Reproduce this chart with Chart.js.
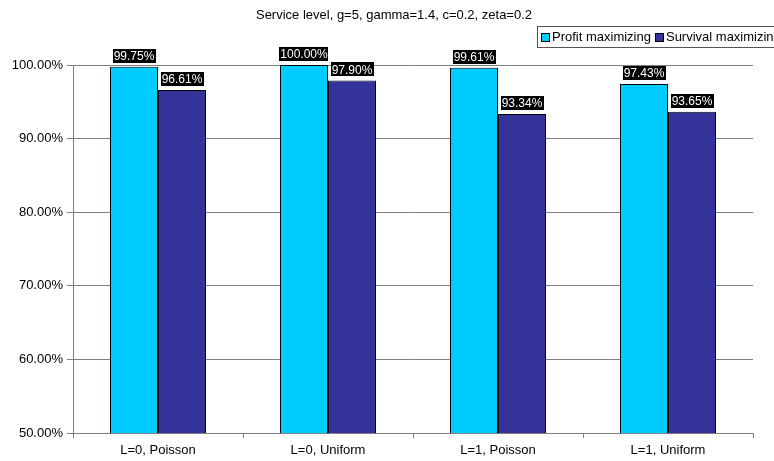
<!DOCTYPE html>
<html>
<head>
<meta charset="utf-8">
<script src="https://cdn.jsdelivr.net/npm/chart.js@4.4.0/dist/chart.umd.min.js"></script>
<style>
  html, body { margin: 0; padding: 0; background: #fff; }
  #wrap { width: 774px; height: 461px; position: relative; }
</style>
</head>
<body>
<div id="wrap"><canvas id="myChart" width="774" height="461"></canvas></div>
<script>
// chart data
let titleText = 'Service level, g=5, gamma=1.4, c=0.2, zeta=0.2';
let categories = ['L=0, Poisson', 'L=0, Uniform', 'L=1, Poisson', 'L=1, Uniform'];
let profitValues = [0.9975, 1.0000, 0.9961, 0.9743];
let survivalValues = [0.9661, 0.9790, 0.9334, 0.9365];
let seriesNames = ['Profit maximizing', 'Survival maximizing'];
let seriesColors = ['#00CCFF', '#333399'];

const FONT = 'Liberation Sans, Arial, sans-serif';

// value labels: white text on black box above each bar
const valueLabels = {
    id: 'valueLabels',
    afterDatasetsDraw(chart) {
        let ctx = chart.ctx;
        ctx.save();
        ctx.font = '12px ' + FONT;
        ctx.textBaseline = 'middle';
        ctx.textAlign = 'center';
        chart.data.datasets.forEach((ds, i) => {
            chart.getDatasetMeta(i).data.forEach((bar, j) => {
                let txt = (ds.data[j] * 100).toFixed(2) + '%';
                let w = ctx.measureText(txt).width + 2;
                let h = 14;
                let bottom = bar.y - 4;
                ctx.fillStyle = '#000';
                ctx.fillRect(Math.round(bar.x - w / 2), Math.round(bottom - h), Math.round(w), h);
                ctx.fillStyle = '#fff';
                ctx.fillText(txt, bar.x, bottom - h / 2 + 1);
            });
        });
        ctx.restore();
    }
};

// title and boxed legend (legend runs off the right edge like the original)
const titleLegend = {
    id: 'titleLegend',
    afterDraw(chart) {
        let ctx = chart.ctx;
        ctx.save();
        ctx.font = '13px ' + FONT;
        ctx.fillStyle = '#000';
        ctx.textAlign = 'center';
        ctx.textBaseline = 'middle';
        ctx.fillText(titleText, 394, 15);

        ctx.fillStyle = '#fff';
        ctx.fillRect(537.5, 26.5, 260, 21);
        ctx.strokeStyle = '#555';
        ctx.lineWidth = 1;
        ctx.strokeRect(537.5, 26.5, 260, 21);

        ctx.font = '13px ' + FONT;
        ctx.textAlign = 'left';
        let x = 541;
        seriesNames.forEach((name, i) => {
            ctx.fillStyle = seriesColors[i];
            ctx.fillRect(x + 0.5, 33.5, 8, 8);
            ctx.strokeStyle = '#000';
            ctx.strokeRect(x + 0.5, 33.5, 8, 8);
            ctx.fillStyle = '#000';
            ctx.fillText(name, x + 11, 37.5);
            x += 11 + ctx.measureText(name).width + 4;
        });
        ctx.restore();
    }
};

let ctx = document.getElementById('myChart').getContext('2d');
let myChart = new Chart(ctx, {
    type: 'bar',
    data: {
        labels: categories,
        datasets: [
            {
                label: seriesNames[0],
                data: profitValues,
                backgroundColor: seriesColors[0],
                borderColor: '#000',
                borderWidth: 1,
                borderSkipped: false,
                barPercentage: 1.0,
                categoryPercentage: 0.565,
            },
            {
                label: seriesNames[1],
                data: survivalValues,
                backgroundColor: seriesColors[1],
                borderColor: '#000',
                borderWidth: 1,
                borderSkipped: false,
                barPercentage: 1.0,
                categoryPercentage: 0.565,
            },
        ],
    },
    options: {
        responsive: false,
        animation: false,
        layout: { padding: { top: 65, right: 21, bottom: 0, left: 0 } },
        plugins: {
            legend: { display: false },
            title: { display: false },
            tooltip: { enabled: false },
        },
        scales: {
            x: {
                grid: { drawOnChartArea: false, color: '#808080', tickLength: 5, offset: true },
                border: { color: '#808080' },
                ticks: { color: '#000', font: { family: FONT, size: 13 }, padding: 5 },
                afterFit: (scale) => { scale.height = 28; },
            },
            y: {
                min: 0.5,
                max: 1.0,
                ticks: {
                    stepSize: 0.1,
                    color: '#000',
                    font: { family: FONT, size: 13 },
                    padding: 4,
                    callback: (v) => (v * 100).toFixed(2) + '%',
                },
                grid: { color: '#808080', tickLength: 6 },
                border: { color: '#808080' },
                afterFit: (scale) => { scale.width = 73; },
            },
        },
    },
    plugins: [valueLabels, titleLegend],
});
</script>
</body>
</html>
